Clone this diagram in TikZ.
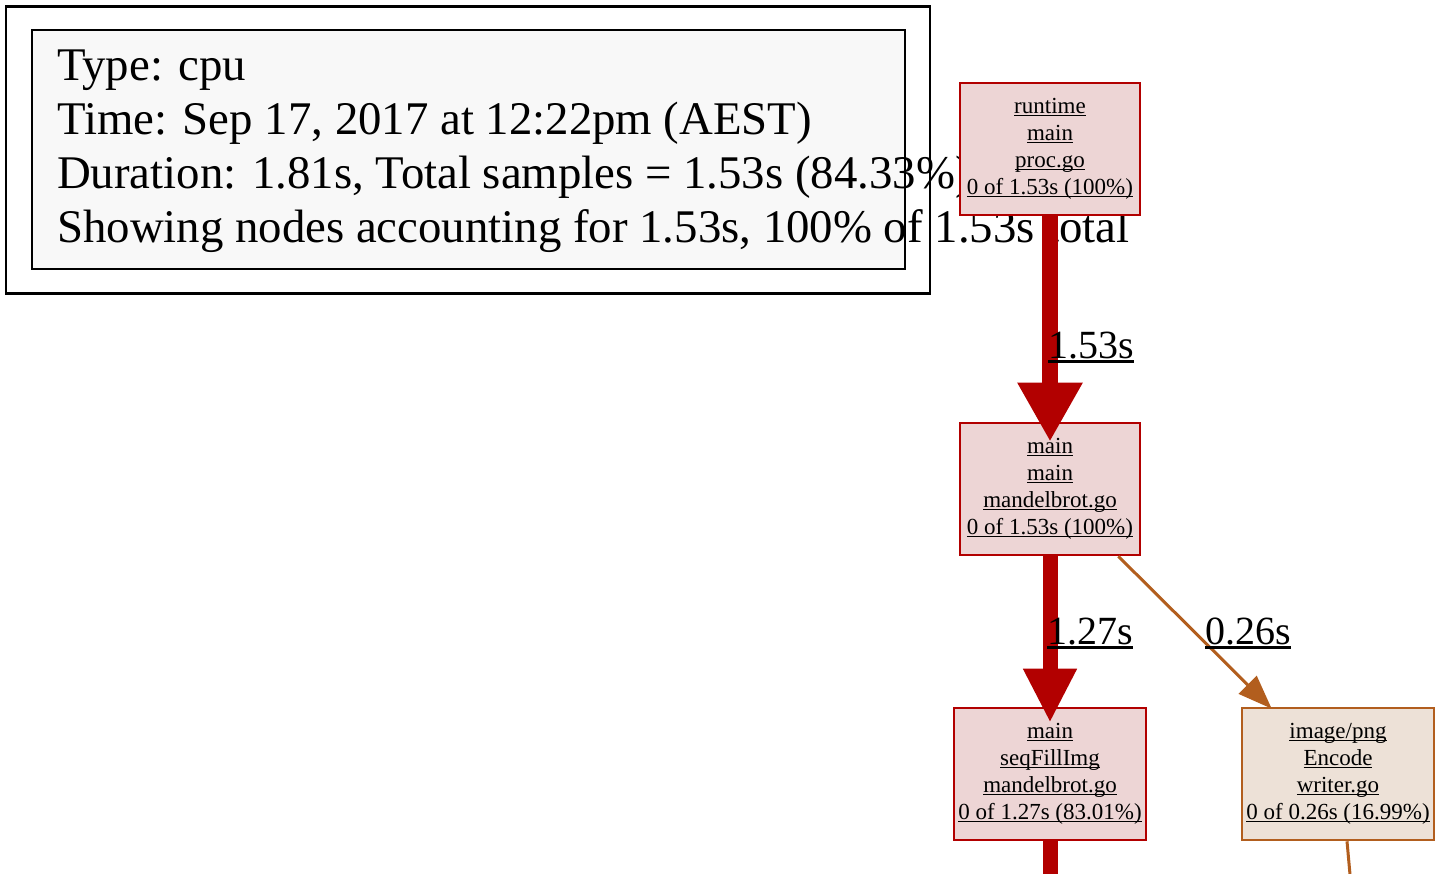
\documentclass[tikz,border=0pt]{standalone}
\usepackage{fontspec}
\setmainfont{Liberation Serif}
\usetikzlibrary{arrows.meta}
\definecolor{hotred}{HTML}{B20000}
\definecolor{hotfill}{HTML}{EDD5D5}
\definecolor{warmbrown}{HTML}{B25E1E}
\definecolor{warmfill}{HTML}{EDE1D7}
\definecolor{legendfill}{HTML}{F8F8F8}
\newcommand{\ulk}[1]{\setbox0\hbox{#1}\rlap{\rule[-0.12em]{\wd0}{0.075em}}\box0}

\begin{document}
\begin{tikzpicture}[x=1pt, y=-1pt,
    legendbox/.style={rectangle, draw=black, line width=2.5pt, inner sep=0pt},
    legendtext/.style={align=left, inner sep=0pt, font=\fontsize{46.8}{54}\selectfont},
    fnbox/.style={rectangle, line width=2.6pt, align=center, inner sep=0pt, minimum height=132pt, font=\fontsize{23}{27}\selectfont},
    hotbox/.style={fnbox, draw=hotred, fill=hotfill},
    warmbox/.style={fnbox, draw=warmbrown, fill=warmfill},
    hotline/.style={draw=hotred, line width=16pt},
    warmline/.style={draw=warmbrown, line width=3pt},
    hotedge/.style={hotline, -{Triangle[width=61pt, length=59pt]}},
    warmedge/.style={warmline, -{Triangle[width=25pt, length=34pt]}},
    weight/.style={anchor=base west, inner sep=0pt, outer sep=0pt, font=\fontsize{40}{48}\selectfont}]

    \useasboundingbox (0,0) rectangle (1440,874);

    % Legend
    \node[legendbox, minimum width=924pt, minimum height=287pt] (legendouter) at (468,150) {};
    \node[legendbox, fill=legendfill, minimum width=873pt, minimum height=239pt] (legendinner) at (468.5,149.5) {};
    \node[legendtext] (legendtxt) at (57,243) [anchor=base west] {Type: cpu\\Time: Sep 17, 2017 at 12:22pm (AEST)\\Duration: 1.81s, Total samples = 1.53s (84.33\%)\\Showing nodes accounting for 1.53s, 100\% of 1.53s total};

    % Functions
    \node[hotbox, minimum width=180pt] (rt) at (1050,149) {\ulk{runtime}\\\ulk{main}\\\ulk{proc.go}\\\ulk{0 of 1.53s (100\%)}};
    \node[hotbox, minimum width=180pt] (mm) at (1050,489) {\ulk{main}\\\ulk{main}\\\ulk{mandelbrot.go}\\\ulk{0 of 1.53s (100\%)}};
    \node[hotbox, minimum width=192pt] (sf) at (1050,774) {\ulk{main}\\\ulk{seqFillImg}\\\ulk{mandelbrot.go}\\\ulk{0 of 1.27s (83.01\%)}};
    \node[warmbox, minimum width=192pt] (ip) at (1338,774) {\ulk{image/png}\\\ulk{Encode}\\\ulk{writer.go}\\\ulk{0 of 0.26s (16.99\%)}};

    \coordinate (sfexit) at (1050,880);
    \coordinate (ipexit) at (1350.5,880);

    % Calls
    \draw[hotedge] (rt.south) -- node[weight, pos=0.63, xshift=-2pt] {\ulk{1.53s}} ([yshift=-20pt]mm.north);
    \draw[hotedge, line width=15pt, -{Triangle[width=50pt, length=54pt]}] (mm.south) -- node[weight, pos=0.53, xshift=-3pt] {\ulk{1.27s}} ([yshift=-16pt]sf.north);
    \draw[warmedge] ([xshift=-23pt]mm.south east) -- node[weight, pos=0.58, xshift=-2pt] {\ulk{0.26s}} ([xshift=31pt, yshift=-2pt]ip.north west);
    \draw[hotline, line width=15pt] (sf.south) -- (sfexit);
    \draw[warmline] ([xshift=9pt]ip.south) -- (ipexit);

\end{tikzpicture}
\end{document}
